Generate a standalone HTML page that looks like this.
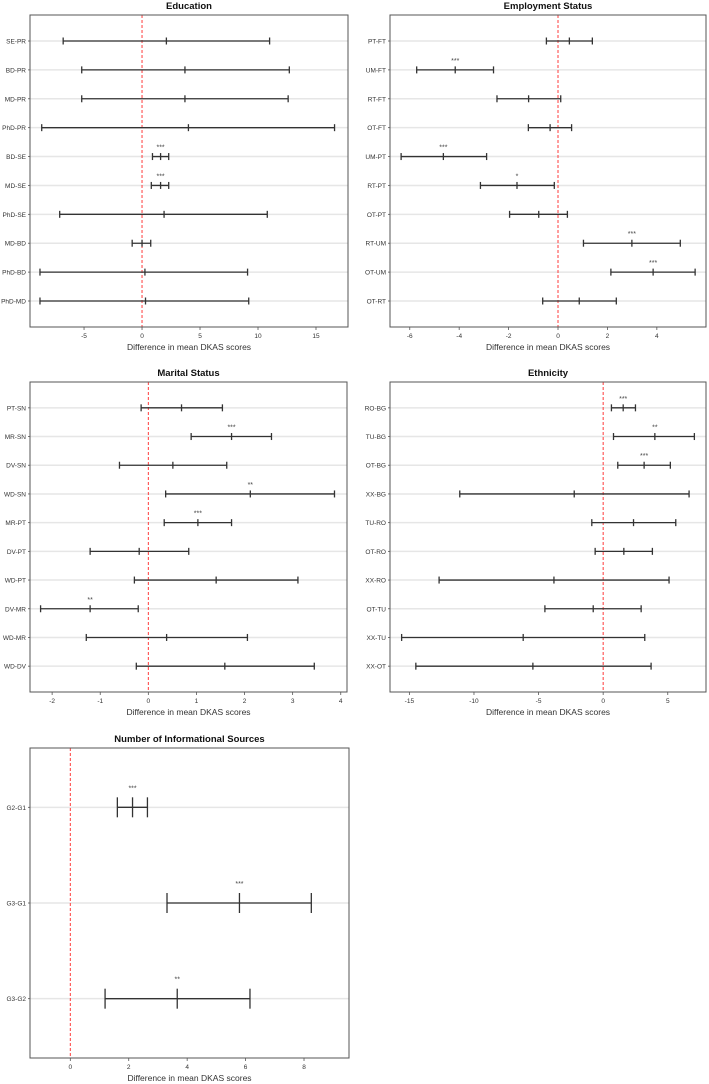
<!DOCTYPE html>
<html><head><meta charset="utf-8"><style>
html,body{margin:0;padding:0;background:#fff;width:709px;height:1084px;overflow:hidden;}
svg{display:block;font-family:"Liberation Sans",sans-serif;}
</style></head><body>
<svg id="chart" width="709" height="1084" viewBox="0 0 709 1084"></svg>
<script>
// ---- Education
const eduCats = ["SE-PR","BD-PR","MD-PR","PhD-PR","BD-SE","MD-SE","PhD-SE","MD-BD","PhD-BD","PhD-MD"];
const eduLwr = [-6.8,-5.2,-5.2,-8.65,0.9,0.8,-7.1,-0.85,-8.8,-8.8];
const eduDiff = [2.1,3.7,3.7,4.0,1.6,1.6,1.9,0,0.25,0.3];
const eduUpr = [11.0,12.7,12.6,16.6,2.3,2.3,10.8,0.75,9.1,9.2];
const eduSig = ["","","","","***","***","","","",""];
const eduTicks = [-5,0,5,10,15];
// ---- Employment
const empCats = ["PT-FT","UM-FT","RT-FT","OT-FT","UM-PT","RT-PT","OT-PT","RT-UM","OT-UM","OT-RT"];
const empLwr = [-0.47,-5.72,-2.47,-1.2,-6.35,-3.14,-1.96,1.03,2.14,-0.62];
const empDiff = [0.46,-4.16,-1.19,-0.32,-4.64,-1.66,-0.78,2.99,3.85,0.86];
const empUpr = [1.39,-2.61,0.11,0.55,-2.89,-0.15,0.38,4.95,5.55,2.36];
const empSig = ["","***","","","***","*","","***","***",""];
const empTicks = [-6,-4,-2,0,2,4];
// ---- Marital
const marCats = ["PT-SN","MR-SN","DV-SN","WD-SN","MR-PT","DV-PT","WD-PT","DV-MR","WD-MR","WD-DV"];
const marLwr = [-0.15,0.89,-0.6,0.36,0.33,-1.21,-0.29,-2.24,-1.29,-0.25];
const marDiff = [0.69,1.73,0.51,2.12,1.03,-0.19,1.41,-1.21,0.38,1.59];
const marUpr = [1.54,2.56,1.63,3.87,1.73,0.84,3.11,-0.21,2.06,3.45];
const marSig = ["","***","","**","***","","","**","",""];
const marTicks = [-2,-1,0,1,2,3,4];
// ---- Ethnicity
const ethCats = ["RO-BG","TU-BG","OT-BG","XX-BG","TU-RO","OT-RO","XX-RO","OT-TU","XX-TU","XX-OT"];
const ethLwr = [0.64,0.8,1.13,-11.1,-0.88,-0.62,-12.7,-4.51,-15.6,-14.5];
const ethDiff = [1.55,4.0,3.17,-2.24,2.35,1.6,-3.81,-0.77,-6.19,-5.44];
const ethUpr = [2.5,7.06,5.2,6.65,5.62,3.81,5.1,2.94,3.22,3.71];
const ethSig = ["***","**","***","","","","","","",""];
const ethTicks = [-15,-10,-5,0,5];
// ---- Info sources
const infCats = ["G2-G1","G3-G1","G3-G2"];
const infLwr = [1.61,3.31,1.19];
const infDiff = [2.13,5.79,3.66];
const infUpr = [2.64,8.25,6.15];
const infSig = ["***","***","**"];
const infTicks = [0,2,4,6,8];

const NS="http://www.w3.org/2000/svg";
const svg=document.getElementById('chart');
function mk(tag,attrs,parent,text){const e=document.createElementNS(NS,tag);for(const k in attrs)e.setAttribute(k,attrs[k]);if(text!==undefined)e.textContent=text;(parent||svg).appendChild(e);return e;}

function panel(p){
  const g=mk('g',{});
  
  
  const x=v=>p.x0+(v-p.xmin)/(p.xmax-p.xmin)*(p.x1-p.x0);
  const n=p.cats.length;
  const ylo=0.5-0.04*n, yhi=n+0.5+0.04*n;
  const y=i=>p.y0+((i+1)-ylo)/(yhi-ylo)*(p.y1-p.y0);
  const t=mk('text',{x:(p.x0+p.x1)/2,y:p.y0-6,'text-anchor':'middle','font-size':'9.5','font-weight':'bold',fill:'#111'},g,p.title);
  
  
  // gridlines
  for(let i=0;i<n;i++){
    const gl=mk('line',{x1:p.x0,x2:p.x1,y1:y(i),y2:y(i),stroke:'#e6e6e6','stroke-width':'1.5'},g);
    
    
  }
  // zero line
  const z=mk('line',{x1:x(0),x2:x(0),y1:p.y0,y2:p.y1,stroke:'#ff3b3b','stroke-width':'1','stroke-dasharray':'3,2'},g);
  
  
  // intervals
  for(let i=0;i<n;i++){
    const cy=y(i);
    const bg=mk('g',{stroke:'#333','stroke-width':'1.3'},g);
    
    
    mk('line',{x1:x(p.lwr[i]),x2:x(p.upr[i]),y1:cy,y2:cy},bg);
    [p.lwr[i],p.diff[i],p.upr[i]].forEach(v=>mk('line',{x1:x(v),x2:x(v),y1:cy-p.cap,y2:cy+p.cap},bg));
    if(p.sig[i]){
      const s=mk('text',{x:x(p.diff[i]),y:cy-p.sigOff,'text-anchor':'middle','font-size':'7',fill:'#444'},g,p.sig[i]);
      
      
    }
    const l=mk('text',{x:p.x0-4,y:cy+2.5,'text-anchor':'end','font-size':'6.5',fill:'#333'},g,p.cats[i]);
    
    
    mk('line',{x1:p.x0-2,x2:p.x0,y1:cy,y2:cy,stroke:'#555','stroke-width':'0.8'},g);
  }
  // box
  const b=mk('rect',{x:p.x0,y:p.y0,width:p.x1-p.x0,height:p.y1-p.y0,fill:'none',stroke:'#555','stroke-width':'1'},g);
  
  
  p.ticks.forEach(v=>{
    mk('line',{x1:x(v),x2:x(v),y1:p.y1,y2:p.y1+3,stroke:'#555','stroke-width':'0.8'},g);
    const tl=mk('text',{x:x(v),y:p.y1+11,'text-anchor':'middle','font-size':'6.5',fill:'#333'},g,String(v));
    
    
  });
  const at=mk('text',{x:(p.x0+p.x1)/2,y:p.y1+23,'text-anchor':'middle','font-size':'8.5',fill:'#333'},g,'Difference in mean DKAS scores');
  
  
}

panel({name:'education',title:'Education',cats:eduCats,lwr:eduLwr,diff:eduDiff,upr:eduUpr,sig:eduSig,ticks:eduTicks,
  x0:30,x1:348,y0:15,y1:327,xmin:-9.66,xmax:17.76,cap:3.5,sigOff:7});
panel({name:'employment',title:'Employment Status',cats:empCats,lwr:empLwr,diff:empDiff,upr:empUpr,sig:empSig,ticks:empTicks,
  x0:390,x1:706,y0:15,y1:327,xmin:-6.8,xmax:5.99,cap:3.5,sigOff:7});
panel({name:'marital',title:'Marital Status',cats:marCats,lwr:marLwr,diff:marDiff,upr:marUpr,sig:marSig,ticks:marTicks,
  x0:30,x1:347,y0:382,y1:692,xmin:-2.46,xmax:4.13,cap:3.5,sigOff:7});
panel({name:'ethnicity',title:'Ethnicity',cats:ethCats,lwr:ethLwr,diff:ethDiff,upr:ethUpr,sig:ethSig,ticks:ethTicks,
  x0:390,x1:706,y0:382,y1:692,xmin:-16.5,xmax:7.96,cap:3.5,sigOff:7});
panel({name:'info-sources',title:'Number of Informational Sources',cats:infCats,lwr:infLwr,diff:infDiff,upr:infUpr,sig:infSig,ticks:infTicks,
  x0:30,x1:349,y0:748,y1:1058,xmin:-1.38,xmax:9.54,cap:10,sigOff:17});
</script>
</body></html>
